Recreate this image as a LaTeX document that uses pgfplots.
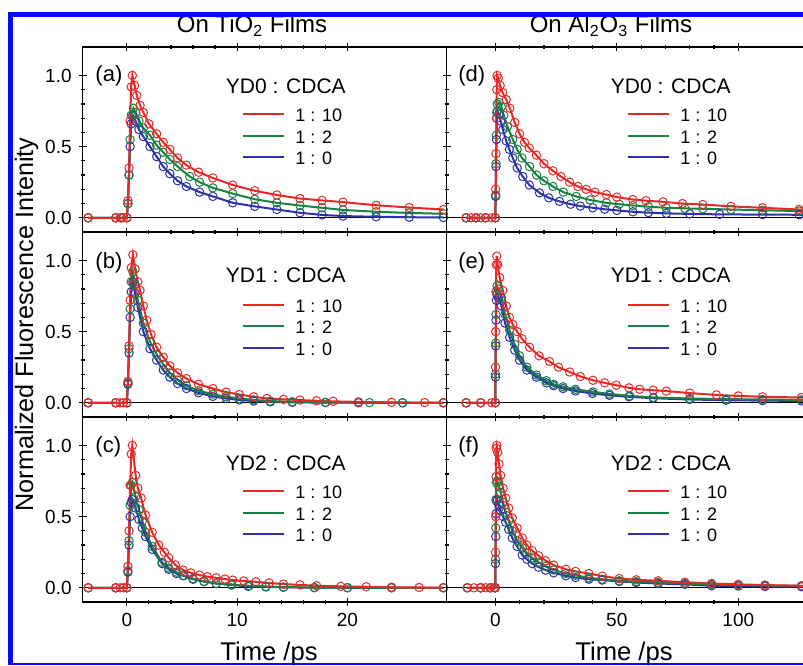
\documentclass[border=0pt]{standalone}
\usepackage{pgfplots}
\pgfplotsset{compat=1.18}
\usepackage{fontspec}
\setmainfont{Liberation Sans}
\definecolor{cred}{RGB}{235,40,40}
\definecolor{cgreen}{RGB}{25,130,65}
\definecolor{cblue}{RGB}{45,50,170}
\definecolor{frameblue}{RGB}{10,10,250}
\tikzset{
 plab/.style={anchor=west, inner sep=0pt, font=\fontsize{11}{13}\selectfont},
 hlab/.style={inner sep=0pt, font=\fontsize{10.5}{12}\selectfont},
}
\pgfplotsset{
 base/.style={scale only axis, height=92.5pt, ymin=-0.1, ymax=1.2, ytick={0,0.5,1}, minor y tick num=4,
   tick align=center, major tick length=4pt, minor tick length=2pt,
   every tick/.style={black, line width=0.6pt},
   axis line style={line width=0.7pt},
   tick label style={font=\fontsize{9.5}{11}\selectfont},
   /pgf/number format/assume math mode=true,
   yticklabel style={/pgf/number format/.cd, fixed, fixed zerofill, precision=1},
   legend cell align=left,
   legend image code/.code={\draw[##1, mark=none, line width=1pt] (0pt,0pt) -- (20.5pt,0pt);},
   legend style={draw=none, fill=none, inner sep=0pt, row sep=0pt, column sep=5pt,
     font=\fontsize{9}{10}\selectfont, anchor=north west,
     nodes={inner xsep=0pt, inner ysep=1.6pt, text height=7.5pt, text depth=0pt}},
   every axis plot/.append style={line width=1pt, mark=o, mark size=2.1pt, mark options={line width=0.5pt, solid}},
   reverse legend,
 },
 lefts/.style={base, width=182pt, xmin=-4, xmax=29, xtick={0,10,20}, minor x tick num=4},
 rights/.style={base, width=194.4pt, xmin=-20, xmax=140, xtick={0,50,100}, minor x tick num=4, yticklabels={}},
}
\begin{document}
\begin{tikzpicture}
\path[use as bounding box] (0,0) rectangle (401.5pt,332.5pt);
\clip (0,0) rectangle (401.5pt,332.5pt);

% ---------- (a) ----------
\begin{axis}[lefts, at={(41.35pt,216.5pt)}, anchor=south west, xticklabels={},
  legend style={at={(0.4376,0.696)}}]
\addplot[black, line width=0.6pt, mark=none, forget plot] coordinates {(-4,0)(29,0)};
\addplot[cblue] coordinates {(-3.5,0)(-1,0)(-0.5,0)(0,0)(0.1,0.1)(0.2,0.3)(0.3,0.5)(0.4,0.66)(0.55,0.72)(0.8,0.68)(1.1,0.62)(1.5,0.57)(2.1,0.5)(2.7,0.43)(3.3,0.36)(3.9,0.31)(4.6,0.26)(5.4,0.22)(6.6,0.18)(7.8,0.15)(9.6,0.105)(11.6,0.08)(13.6,0.058)(15.7,0.035)(17.7,0.02)(19.6,0.012)(22.6,0.007)(25.6,0.004)(28.7,0.002)};
\addplot[cgreen] coordinates {(-3.5,0)(-1,0)(-0.5,0)(0,0)(0.1,0.1)(0.2,0.3)(0.3,0.55)(0.4,0.72)(0.6,0.77)(0.8,0.74)(1.1,0.68)(1.5,0.63)(2.1,0.58)(2.7,0.51)(3.3,0.46)(3.9,0.41)(4.6,0.36)(5.7,0.29)(6.6,0.25)(7.8,0.21)(9.6,0.17)(11.6,0.13)(13.6,0.105)(15.7,0.086)(17.7,0.07)(19.6,0.055)(22.6,0.042)(25.6,0.034)(28.7,0.028)};
\addplot[cred] coordinates {(-3.5,0)(-1,0)(-0.6,0)(-0.3,0)(0,0)(0.1,0.12)(0.2,0.35)(0.3,0.68)(0.4,0.92)(0.5,1.0)(0.7,0.93)(0.9,0.86)(1.2,0.79)(1.5,0.74)(2.0,0.66)(2.7,0.59)(3.3,0.53)(3.9,0.48)(4.6,0.42)(5.4,0.37)(6.5,0.32)(7.8,0.28)(9.6,0.23)(11.6,0.19)(13.6,0.16)(15.7,0.135)(17.7,0.122)(19.6,0.11)(22.6,0.088)(25.6,0.072)(28.7,0.058)};
\legend{1 : 0, 1 : 2, 1 : 10}
\node[plab] at (rel axis cs:0.034,0.846) {(a)};
\node[hlab] at (rel axis cs:0.558,0.790) {YD0 : CDCA};
\end{axis}

% ---------- (b) ----------
\begin{axis}[lefts, at={(41.35pt,124pt)}, anchor=south west, xticklabels={},
  legend style={at={(0.4376,0.667)}}]
\addplot[black, line width=0.6pt, mark=none, forget plot] coordinates {(-4,0)(29,0)};
\addplot[cblue] coordinates {(-3.5,0)(-1,0)(0,0)(0.1,0.13)(0.2,0.35)(0.3,0.6)(0.4,0.78)(0.55,0.85)(0.75,0.77)(1.0,0.67)(1.5,0.5)(2.1,0.38)(2.7,0.3)(3.3,0.23)(3.9,0.18)(4.6,0.135)(5.4,0.1)(6.5,0.07)(7.8,0.045)(9,0.03)(10.2,0.02)(11.5,0.012)(13,0.006)(15,0.003)(18,0.001)(21,0)(25,0)(28.7,0)};
\addplot[cgreen] coordinates {(-3.5,0)(-1,0)(0,0)(0.1,0.14)(0.2,0.38)(0.3,0.66)(0.4,0.85)(0.55,0.92)(0.75,0.83)(1.0,0.72)(1.5,0.56)(2.1,0.43)(2.7,0.34)(3.3,0.27)(3.9,0.21)(4.6,0.16)(5.4,0.12)(6.5,0.085)(7.8,0.06)(9.0,0.042)(10.2,0.03)(11.5,0.02)(13,0.012)(15,0.007)(18,0.003)(22,0.001)(25,0)(28.7,0)};
\addplot[cred] coordinates {(-3.5,0)(-1,0)(-0.6,0)(-0.3,0)(0,0)(0.1,0.15)(0.2,0.4)(0.3,0.72)(0.4,0.95)(0.55,1.04)(0.75,0.94)(1.0,0.85)(1.2,0.79)(1.5,0.68)(1.8,0.58)(2.2,0.48)(2.7,0.39)(3.3,0.32)(3.9,0.26)(4.6,0.21)(5.4,0.17)(6.5,0.13)(7.8,0.1)(9.0,0.075)(10.2,0.058)(11.5,0.042)(12.7,0.03)(14.2,0.024)(15.7,0.019)(17.2,0.014)(18.7,0.01)(21,0.006)(24,0.003)(27,0.001)(28.7,0)};
\legend{1 : 0, 1 : 2, 1 : 10}
\node[plab] at (rel axis cs:0.034,0.831) {(b)};
\node[hlab] at (rel axis cs:0.558,0.764) {YD1 : CDCA};
\end{axis}

% ---------- (c) ----------
\begin{axis}[lefts, at={(41.35pt,31.5pt)}, anchor=south west,
  legend style={at={(0.4376,0.658)}}]
\addplot[black, line width=0.6pt, mark=none, forget plot] coordinates {(-4,0)(29,0)};
\addplot[cblue] coordinates {(-3.5,0)(-1,0)(0,0)(0.1,0.11)(0.2,0.3)(0.3,0.5)(0.4,0.6)(0.5,0.62)(0.8,0.56)(1.1,0.48)(1.4,0.42)(1.7,0.36)(2.3,0.27)(3.2,0.17)(3.8,0.13)(4.5,0.1)(5.1,0.085)(6,0.06)(7,0.043)(8.1,0.03)(9.5,0.02)(11,0.01)(12.6,0.006)(14.2,0.003)(17,0.001)(20,0)(24,0)(28.7,0)};
\addplot[cgreen] coordinates {(-3.5,0)(-1,0)(0,0)(0.1,0.12)(0.2,0.33)(0.3,0.58)(0.4,0.72)(0.5,0.74)(0.8,0.64)(1.1,0.55)(1.4,0.47)(1.7,0.39)(2.3,0.29)(3.2,0.18)(3.8,0.14)(4.5,0.11)(5.2,0.085)(6.0,0.065)(7.0,0.045)(8.1,0.03)(9.5,0.02)(11.1,0.014)(12.6,0.009)(14.2,0.005)(17,0.002)(20,0.001)(24,0)(28.7,0)};
\addplot[cred] coordinates {(-3.5,0)(-1,0)(-0.6,0)(-0.3,0)(0,0)(0.1,0.15)(0.2,0.4)(0.3,0.72)(0.4,0.94)(0.5,1.0)(0.8,0.79)(1.0,0.7)(1.3,0.63)(1.7,0.51)(2.3,0.39)(2.9,0.3)(3.4,0.25)(3.8,0.21)(4.4,0.16)(5.1,0.124)(5.8,0.105)(6.6,0.089)(7.3,0.078)(8.1,0.07)(8.9,0.061)(9.6,0.054)(10.6,0.048)(11.7,0.042)(12.9,0.034)(14.2,0.026)(15.7,0.02)(17.2,0.014)(19.4,0.01)(21.7,0.007)(24,0.004)(26.5,0.002)(28.7,0.001)};
\legend{1 : 0, 1 : 2, 1 : 10}
\node[plab] at (rel axis cs:0.034,0.84) {(c)};
\node[hlab] at (rel axis cs:0.558,0.750) {YD2 : CDCA};
\end{axis}

% ---------- (d) ----------
\begin{axis}[rights, at={(223.35pt,216.5pt)}, anchor=south west, xticklabels={},
  legend style={at={(0.4637,0.696)}}]
\addplot[black, line width=0.6pt, mark=none, forget plot] coordinates {(-20,0)(140,0)};
\addplot[cblue] coordinates {(-12,0)(-8,0)(-4,0)(0,0)(0.15,0.15)(0.3,0.36)(0.45,0.55)(0.6,0.7)(0.8,0.75)(1.5,0.73)(2.2,0.68)(3.1,0.62)(4.5,0.54)(5.8,0.48)(7.2,0.42)(9,0.35)(11.3,0.29)(14,0.23)(18.2,0.175)(22,0.14)(26.4,0.115)(31,0.095)(35,0.082)(40.1,0.07)(45,0.06)(50,0.052)(56.6,0.042)(63,0.036)(70.4,0.031)(80,0.027)(92.3,0.024)(110,0.022)(125,0.021)(140,0.02)};
\addplot[cgreen] coordinates {(-12,0)(-8,0)(-4,0)(0,0)(0.15,0.16)(0.3,0.38)(0.45,0.58)(0.6,0.74)(0.8,0.8)(1.5,0.81)(2.5,0.78)(3.5,0.72)(5,0.64)(7.2,0.55)(9,0.48)(11,0.42)(14.1,0.36)(17,0.3)(20,0.26)(23.7,0.22)(28,0.18)(33.3,0.15)(39,0.125)(45.7,0.105)(51,0.095)(56.6,0.086)(63,0.078)(70.4,0.07)(78,0.066)(85.4,0.063)(97,0.058)(110,0.053)(125,0.047)(140,0.042)};
\addplot[cred] coordinates {(-12,0)(-10,0)(-8,0)(-6,0)(-4,0)(-1.5,0)(0,0)(0.15,0.2)(0.3,0.45)(0.45,0.7)(0.6,0.9)(0.75,1.0)(1.2,0.98)(2,0.93)(3,0.88)(4.5,0.83)(6,0.77)(8,0.67)(10,0.59)(12,0.53)(14,0.49)(16.9,0.44)(20,0.38)(23.7,0.33)(27,0.29)(30.6,0.25)(34,0.22)(37.4,0.2)(41,0.18)(45.7,0.163)(50,0.145)(56.6,0.128)(62,0.12)(69,0.112)(77,0.1)(85.4,0.093)(97,0.08)(110,0.07)(125,0.058)(140,0.05)};
\legend{1 : 0, 1 : 2, 1 : 10}
\node[plab] at (rel axis cs:0.029,0.846) {(d)};
\node[hlab] at (rel axis cs:0.5764,0.790) {YD0 : CDCA};
\end{axis}

% ---------- (e) ----------
\begin{axis}[rights, at={(223.35pt,124pt)}, anchor=south west, xticklabels={},
  legend style={at={(0.4637,0.667)}}]
\addplot[black, line width=0.6pt, mark=none, forget plot] coordinates {(-20,0)(140,0)};
\addplot[cblue] coordinates {(-12,0)(-6,0)(0,0)(0.1,0.18)(0.2,0.4)(0.3,0.58)(0.45,0.72)(0.7,0.76)(1.2,0.74)(2.5,0.68)(4,0.56)(5.9,0.46)(8,0.37)(10,0.3)(13,0.23)(16.9,0.18)(21,0.14)(24,0.12)(27.9,0.1)(33,0.083)(40,0.065)(47,0.052)(55,0.042)(65,0.032)(80,0.023)(95,0.018)(110,0.015)(126,0.013)(140,0.012)};
\addplot[cgreen] coordinates {(-12,0)(-6,0)(0,0)(0.1,0.2)(0.2,0.42)(0.3,0.62)(0.45,0.78)(0.7,0.82)(1.2,0.8)(2.5,0.74)(4,0.62)(5.9,0.51)(8,0.41)(10,0.33)(13,0.25)(16.9,0.195)(21,0.155)(24,0.13)(27.9,0.112)(33,0.095)(40.2,0.077)(47,0.062)(55.3,0.048)(65,0.038)(80,0.03)(95,0.026)(110,0.023)(126,0.02)(140,0.018)};
\addplot[cred] coordinates {(-12,0)(-6,0)(-1.5,0)(0,0)(0.1,0.25)(0.2,0.5)(0.3,0.78)(0.4,0.97)(0.6,1.03)(1.0,0.97)(1.8,0.88)(3.1,0.79)(4.5,0.68)(5.8,0.6)(7.2,0.55)(9,0.5)(11,0.45)(14.1,0.39)(18,0.33)(22.3,0.29)(26,0.25)(30.6,0.216)(35,0.185)(40.2,0.158)(45,0.14)(49.8,0.123)(55,0.105)(59.4,0.095)(65,0.088)(70.4,0.082)(80,0.068)(91,0.055)(100,0.048)(110,0.042)(126,0.037)(140,0.033)};
\legend{1 : 0, 1 : 2, 1 : 10}
\node[plab] at (rel axis cs:0.029,0.831) {(e)};
\node[hlab] at (rel axis cs:0.5764,0.764) {YD1 : CDCA};
\end{axis}

% ---------- (f) ----------
\begin{axis}[rights, at={(223.35pt,31.5pt)}, anchor=south west,
  legend style={at={(0.4637,0.658)}}]
\addplot[black, line width=0.6pt, mark=none, forget plot] coordinates {(-20,0)(140,0)};
\addplot[cblue] coordinates {(-11.5,0)(-6,0)(-2,0)(0,0)(0.1,0.17)(0.2,0.36)(0.3,0.52)(0.45,0.61)(0.8,0.62)(1.5,0.58)(2.2,0.54)(3.2,0.5)(4.3,0.46)(5.5,0.41)(7,0.35)(9,0.29)(11.1,0.23)(13,0.2)(15.2,0.17)(17.8,0.145)(20.7,0.124)(24,0.105)(29,0.084)(33,0.072)(38.5,0.06)(44,0.054)(51,0.045)(58,0.037)(67,0.03)(78,0.024)(89,0.014)(100,0.012)(111,0.009)(126,0.007)(140,0.006)};
\addplot[cgreen] coordinates {(-11.5,0)(-6,0)(-2,0)(0,0)(0.1,0.2)(0.2,0.42)(0.3,0.62)(0.45,0.74)(0.8,0.75)(1.5,0.71)(2.2,0.67)(3.2,0.6)(4.3,0.53)(5.5,0.47)(7,0.4)(9,0.33)(11.1,0.28)(13,0.245)(15.2,0.21)(17.8,0.18)(20.7,0.15)(24,0.125)(29,0.1)(33,0.088)(38.5,0.07)(44,0.06)(51,0.049)(58,0.043)(67,0.037)(78,0.03)(89,0.023)(100,0.019)(111,0.016)(126,0.014)(140,0.012)};
\addplot[cred] coordinates {(-11.5,0)(-8.8,0)(-6,0)(-4,0)(-2,0)(-0.5,0)(0,0)(0.1,0.25)(0.2,0.5)(0.3,0.78)(0.4,0.98)(0.6,1.0)(1.0,0.95)(1.5,0.87)(2.2,0.79)(3.2,0.7)(4.3,0.63)(5.5,0.56)(7,0.49)(9,0.42)(11.1,0.35)(13,0.3)(15.2,0.26)(17.8,0.225)(20.7,0.19)(24,0.16)(29,0.13)(33,0.115)(38.5,0.1)(44,0.082)(51,0.065)(58,0.056)(67,0.049)(78,0.039)(89,0.03)(100,0.024)(111,0.019)(126,0.014)(140,0.012)};
\legend{1 : 0, 1 : 2, 1 : 10}
\node[plab] at (rel axis cs:0.029,0.84) {(f)};
\node[hlab] at (rel axis cs:0.5764,0.750) {YD2 : CDCA};
\end{axis}

% ---------- titles and labels ----------
\node[anchor=base, inner sep=0pt, font=\fontsize{12}{14}\selectfont] at (126pt,316pt) {On TiO\textsubscript{2} Films};
\node[anchor=base, inner sep=0pt, font=\fontsize{12}{14}\selectfont] at (305.5pt,316pt) {On Al\textsubscript{2}O\textsubscript{3} Films};
\node[anchor=base, inner sep=0pt, font=\fontsize{12.8}{15}\selectfont] at (134.5pt,2.5pt) {Time /ps};
\node[anchor=base, inner sep=0pt, font=\fontsize{12.8}{15}\selectfont] at (312pt,2.5pt) {Time /ps};
\node[anchor=base, inner sep=0pt, rotate=90, font=\fontsize{12.6}{15}\selectfont] at (16.5pt,170.25pt) {Normalized Fluorescence Intenity};

% ---------- blue frame ----------
\fill[frameblue] (4pt,0pt) rectangle (6.5pt,326.5pt);
\fill[frameblue] (4pt,324pt) rectangle (401.5pt,326.5pt);
\fill[frameblue] (4pt,0pt) rectangle (401.5pt,1.2pt);
\end{tikzpicture}
\end{document}
